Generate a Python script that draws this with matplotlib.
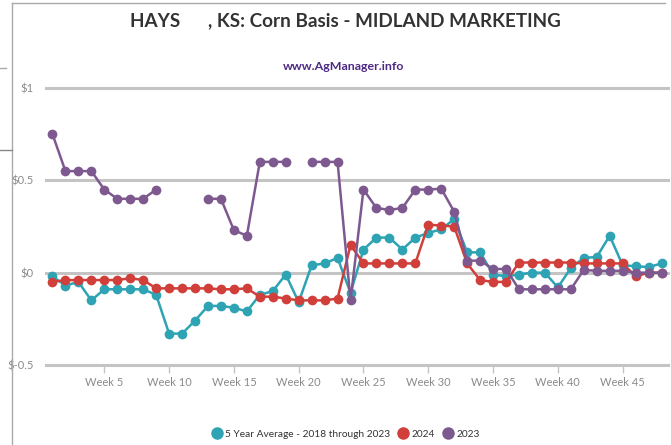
import numpy as np
import matplotlib
matplotlib.use("Agg")
import matplotlib.pyplot as plt
from matplotlib.lines import Line2D

nan = np.nan
weeks = list(range(1, 49))
avg5 = [-0.02, -0.07, -0.05, -0.15, -0.09, -0.09, -0.09, -0.09, -0.12, -0.33,
        -0.33, -0.26, -0.18, -0.18, -0.19, -0.21, -0.12, -0.10, -0.01, -0.16,
        0.04, 0.05, 0.08, -0.11, 0.125, 0.19, 0.19, 0.125, 0.19, 0.215,
        0.235, 0.29, 0.11, 0.11, -0.01, -0.02, -0.01, 0.0, 0.0, -0.08,
        0.025, 0.08, 0.085, 0.20, 0.04, 0.035, 0.03, 0.05]
y2024 = [-0.05, -0.04, -0.04, -0.04, -0.04, -0.04, -0.03, -0.04, -0.085, -0.085,
         -0.085, -0.085, -0.085, -0.09, -0.09, -0.085, -0.13, -0.13, -0.14, -0.15,
         -0.15, -0.15, -0.14, 0.15, 0.05, 0.05, 0.05, 0.05, 0.05, 0.26,
         0.255, 0.25, 0.05, -0.04, -0.05, -0.05, 0.055, 0.055, 0.055, 0.055,
         0.055, 0.05, 0.05, 0.05, 0.05, -0.02, 0.0, 0.0]
y2023 = [0.75, 0.55, 0.55, 0.55, 0.45, 0.40, 0.40, 0.40, 0.45, nan,
         nan, nan, 0.40, 0.40, 0.23, 0.20, 0.60, 0.60, 0.60, nan,
         0.60, 0.60, 0.60, -0.15, 0.45, 0.35, 0.34, 0.35, 0.45, 0.45,
         0.455, 0.33, 0.065, 0.065, 0.02, 0.02, -0.09, -0.09, -0.09, -0.09,
         -0.09, 0.015, 0.01, 0.01, 0.01, 0.0, 0.0, 0.0]
tick_weeks = [5, 10, 15, 20, 25, 30, 35, 40, 45]
tick_labels = ["Week %d" % w for w in tick_weeks]
y_ticks = [-0.5, 0, 0.5, 1]
y_labels = ["$-0.5", "$0", "$0.5", "$1"]
series_names = ["5 Year Average - 2018 through 2023", "2024", "2023"]
title = "HAYS      , KS: Corn Basis - MIDLAND MARKETING"
subtitle = "www.AgManager.info"
colors = ["#2EA3B4", "#D13F3A", "#7E5990"]

FONT = ["Lato", "DejaVu Sans"]
plt.rcParams['font.family'] = FONT

fig = plt.figure(figsize=(6.71, 4.45), dpi=100)
W, H = 671, 445
renderer = fig.canvas.get_renderer()


def fit_size(txt, target_w, weight='normal', base=20):
    t = fig.text(0, 0, txt, fontsize=base, fontweight=weight)
    w = t.get_window_extent(renderer).width
    t.remove()
    return base * target_w / w


ax = fig.add_axes([46 / W, (H - 365) / H, (668 - 46) / W, (365 - 88) / H])

for vals, c in zip([avg5, y2024, y2023], colors):
    ax.plot(weeks, vals, color=c, lw=1.8, marker='o', markersize=7,
            markeredgewidth=0, zorder=3)

ax.set_xlim(0.5, 48.5)
ax.set_ylim(-0.5, 1.0)
for s in ax.spines.values():
    s.set_visible(False)
for yv in y_ticks:
    ax.axhline(yv, color="#C4C4C4", lw=2.2, zorder=1, clip_on=False)

xfs = fit_size("Week 10", 45)
yfs = fit_size("$0.5", 22)
ax.set_yticks(y_ticks)
ax.set_yticklabels(y_labels, color="#8A8A8A", fontsize=yfs)
ax.tick_params(axis='y', length=0, pad=9)
ax.set_xticks(tick_weeks)
ax.set_xticklabels(tick_labels, color="#8A8A8A", fontsize=xfs)
ax.tick_params(axis='x', length=6, width=1, color="#C4C4C4", pad=3)

tfs = fit_size(title, 430, weight='bold')
fig.text(345 / W, 1 - 21 / H, title, ha='center', va='center',
         fontsize=tfs, color="#333333", fontweight='bold')
sfs = fit_size(subtitle, 122, weight='bold')
fig.text(344 / W, 1 - 66 / H, subtitle, ha='center', va='center',
         fontsize=sfs, color="#4E2A84", fontweight='bold')

lfs = fit_size(series_names[0], 165)
handles = [Line2D([], [], color=c, marker='o', markersize=9, lw=0,
                  markeredgewidth=0) for c in colors]
fig.legend(handles, series_names, loc='center', bbox_to_anchor=(346 / W, 1 - 434 / H),
           ncol=3, frameon=False, fontsize=lfs, handlelength=0.9, handletextpad=0.4,
           columnspacing=0.8, labelcolor="#333333")

# screenshot frame artifacts
fig.add_artist(Line2D([12 / W, 12 / W], [0, 1 - 3 / H], color="#AAAAAA", lw=1,
                      transform=fig.transFigure))
fig.add_artist(Line2D([12 / W, 665 / W], [1 - 3 / H, 1 - 3 / H], color="#AAAAAA", lw=1,
                      transform=fig.transFigure))
fig.add_artist(Line2D([0, 12 / W], [1 - 150 / H, 1 - 150 / H], color="#888888", lw=1,
                      transform=fig.transFigure))
fig.add_artist(Line2D([0, 6 / W], [1 - 68 / H, 1 - 68 / H], color="#AAAAAA", lw=1,
                      transform=fig.transFigure))

fig.savefig("out.png", dpi=100)
